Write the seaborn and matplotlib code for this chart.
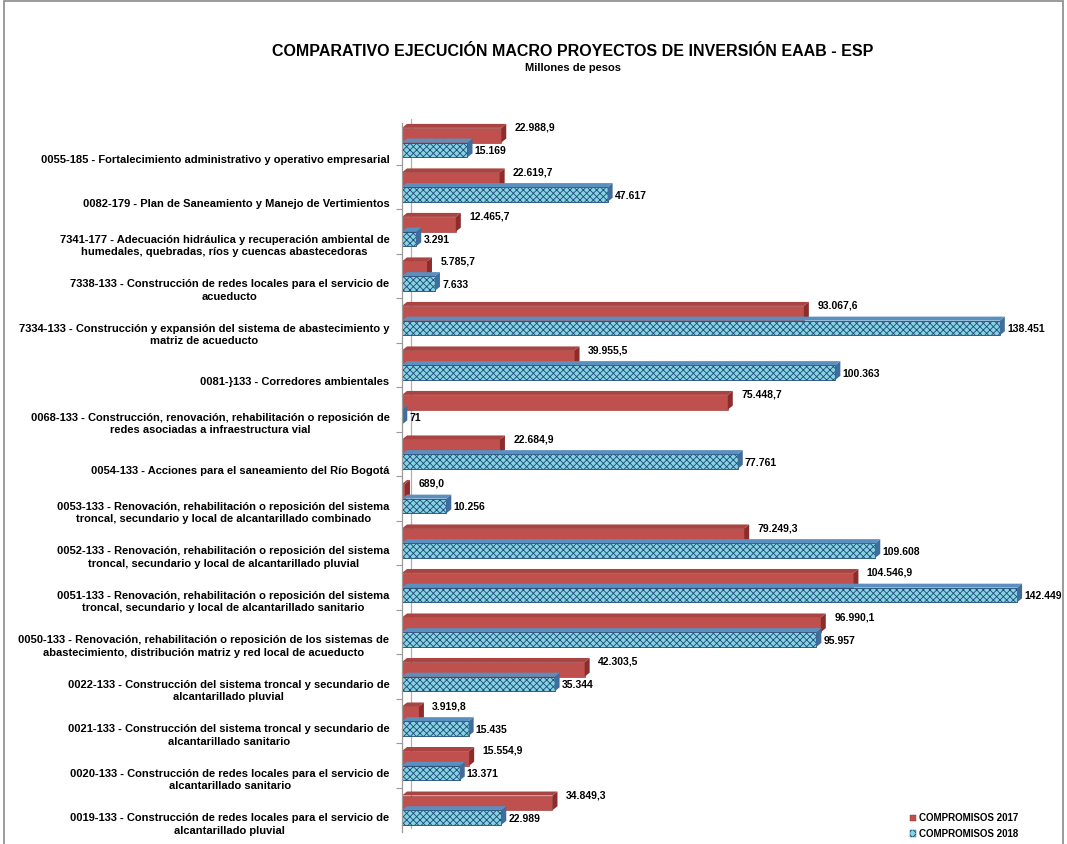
"""
Comparativo ejecución macro proyectos de inversión EAAB - ESP (2017 vs 2018).
Barras horizontales agrupadas con un pequeño efecto de profundidad.
"""

import numpy as np
import pandas as pd
import matplotlib
matplotlib.use("Agg")
import matplotlib.pyplot as plt
from matplotlib.patches import Polygon, Rectangle, Patch
from matplotlib.transforms import ScaledTranslation
import seaborn as sns

PROYECTOS = [
    "0055-185 - Fortalecimiento administrativo y operativo empresarial",
    "0082-179 - Plan de Saneamiento y Manejo de Vertimientos",
    "7341-177 - Adecuación hidráulica y recuperación ambiental de\nhumedales, quebradas, ríos y cuencas abastecedoras",
    "7338-133 - Construcción de redes locales para el servicio de\nacueducto",
    "7334-133 - Construcción y expansión del sistema de abastecimiento y\nmatriz de acueducto",
    "0081-}133 - Corredores ambientales",
    "0068-133 - Construcción, renovación, rehabilitación o reposición de\nredes asociadas a infraestructura vial",
    "0054-133 - Acciones para el saneamiento del Río Bogotá",
    "0053-133 - Renovación, rehabilitación o reposición del sistema\ntroncal, secundario y local de alcantarillado combinado",
    "0052-133 - Renovación, rehabilitación o reposición del sistema\ntroncal, secundario y local de alcantarillado pluvial",
    "0051-133 - Renovación, rehabilitación o reposición del sistema\ntroncal, secundario y local de alcantarillado sanitario",
    "0050-133 - Renovación, rehabilitación o reposición de los sistemas de\nabastecimiento, distribución matriz y red local de acueducto",
    "0022-133 - Construcción del sistema troncal y secundario de\nalcantarillado pluvial",
    "0021-133 - Construcción del sistema troncal y secundario de\nalcantarillado sanitario",
    "0020-133 - Construcción de redes locales para el servicio de\nalcantarillado sanitario",
    "0019-133 - Construcción de redes locales para el servicio de\nalcantarillado pluvial",
]
COMPROMISOS_2017 = [22988.9, 22619.7, 12465.7, 5785.7, 93067.6, 39955.5, 75448.7, 22684.9,
                    689.0, 79249.3, 104546.9, 96990.1, 42303.5, 3919.8, 15554.9, 34849.3]
COMPROMISOS_2018 = [15169, 47617, 3291, 7633, 138451, 100363, 71, 77761,
                    10256, 109608, 142449, 95957, 35344, 15435, 13371, 22989]
SERIES = ["COMPROMISOS 2017", "COMPROMISOS 2018"]

RED = "#C0504D"
RED_DARK = "#8C2D2B"
CYAN = "#86D3E2"
NAVY = "#1E4A78"
FONT = ["Liberation Sans", "DejaVu Sans"]
XMAX = 151000


def fmt_es(v, dec):
    s = f"{v:,.{dec}f}"
    return s.replace(",", "X").replace(".", ",").replace("X", ".")


def main():
    df = pd.DataFrame({
        "proyecto": PROYECTOS * 2,
        "valor": COMPROMISOS_2017 + COMPROMISOS_2018,
        "serie": [SERIES[0]] * len(PROYECTOS) + [SERIES[1]] * len(PROYECTOS),
    })

    sns.set_style("white")
    plt.rcParams["font.family"] = FONT
    plt.rcParams["text.color"] = "black"
    plt.rcParams["ytick.color"] = "black"
    plt.rcParams["hatch.linewidth"] = 0.6

    fig = plt.figure(figsize=(10.67, 8.44), dpi=100)
    ax = fig.add_axes([402 / 1067, 12 / 844, 652 / 1067, 709 / 844])

    sns.barplot(
        data=df, y="proyecto", x="valor", hue="serie",
        order=PROYECTOS, hue_order=SERIES,
        palette=[RED, CYAN], orient="h", width=0.66,
        saturation=1, legend=False, ax=ax,
    )
    ax.set_xlim(0, XMAX)
    ax.set_ylim(15.49, -0.44)

    # pixel -> data conversion for decorative depth faces
    x_per_px = XMAX / 652
    y_per_px = (15.49 + 0.44) / 709
    dx, dy = 5 * x_per_px, 4 * y_per_px

    red_bars, blue_bars = ax.containers[0], ax.containers[1]
    for bar in red_bars:
        bar.set_edgecolor(RED_DARK)
        bar.set_linewidth(0.4)
    for bar in blue_bars:
        bar.set_hatch("xxxxx")
        bar.set_edgecolor(NAVY)
        bar.set_linewidth(0.6)

    for bars, side, top in [(red_bars, RED_DARK, "#A94442"), (blue_bars, "#3F6E9E", "#5B8FBF")]:
        for bar in bars:
            x1 = bar.get_width()
            y0 = bar.get_y()
            y1 = y0 + bar.get_height()
            ax.add_patch(Polygon([(x1, y0), (x1 + dx, y0 - dy), (x1 + dx, y1 - dy), (x1, y1)],
                                 closed=True, facecolor=side, edgecolor="none", zorder=2))
            ax.add_patch(Polygon([(0, y0), (dx, y0 - dy), (x1 + dx, y0 - dy), (x1, y0)],
                                 closed=True, facecolor=top, edgecolor="none", zorder=2))

    # value labels
    for bar, v in zip(red_bars, COMPROMISOS_2017):
        ax.annotate(fmt_es(v, 1), xy=(bar.get_width() + dx, bar.get_y()),
                    xytext=(6, 0), textcoords="offset points",
                    ha="left", va="center", fontsize=7.5, fontweight="bold", family=FONT)
    for bar, v in zip(blue_bars, COMPROMISOS_2018):
        ax.annotate(fmt_es(v, 0), xy=(bar.get_width() + dx, bar.get_y() + bar.get_height() / 2),
                    xytext=(1.5, -1), textcoords="offset points",
                    ha="left", va="center", fontsize=7.5, fontweight="bold", family=FONT)

    # category labels, pushed down like the original 3D layout
    ax.set_ylabel("")
    ax.set_xlabel("")
    ax.set_xticks([])
    ax.tick_params(axis="y", which="major", length=0, pad=9)
    for lab in ax.get_yticklabels():
        lines = lab.get_text().count("\n") + 1
        shift = -16 if lines == 1 else -12
        lab.set_transform(lab.get_transform() + ScaledTranslation(0, shift / 100, fig.dpi_scale_trans))
        lab.set_fontsize(8)
        lab.set_fontweight("bold")
        lab.set_multialignment("center")
        lab.set_linespacing(1.35)

    # category boundary ticks
    ax.set_yticks(np.arange(-0.44 + 1, 15.49, 1.0) - 0.06, minor=True)
    ax.tick_params(axis="y", which="minor", left=True, length=4, color="#999999", width=0.8)

    sns.despine(ax=ax, top=True, right=True, bottom=True, left=False)
    ax.spines["left"].set_color("#9a9a9a")
    ax.spines["left"].set_linewidth(0.9)
    # back wall line
    ax.plot([0, 0], [0, 1], color="#b0b0b0", lw=0.9, zorder=0, clip_on=False,
            transform=ax.get_xaxis_transform() + ScaledTranslation(9 / 100, 4 / 100, fig.dpi_scale_trans))

    fig.text(573 / 1067, 1 - 52 / 844, "COMPARATIVO EJECUCIÓN MACRO PROYECTOS DE INVERSIÓN EAAB - ESP",
             ha="center", va="center", fontsize=11.5, fontweight="bold", family=FONT)
    fig.text(573 / 1067, 1 - 68 / 844, "Millones de pesos",
             ha="center", va="center", fontsize=8, fontweight="bold", family=FONT)

    handles = [Patch(facecolor=RED, edgecolor=RED_DARK, lw=0.3),
               Patch(facecolor=CYAN, edgecolor=NAVY, hatch="xxxx", lw=0.3)]
    fig.legend(handles, SERIES, loc="center left", bbox_to_anchor=(905 / 1067, 1 - 826 / 844),
               frameon=False, handlelength=0.6, handleheight=0.6,
               handletextpad=0.3, labelspacing=0.6, borderpad=0,
               prop={"family": FONT, "weight": "bold", "size": 7})

    fig.add_artist(Rectangle((4 / 1067, -0.01), 1059 / 1067, 1.0 - 1 / 844 + 0.01,
                             transform=fig.transFigure, fill=False,
                             edgecolor="#8a8a8a", lw=1.2))

    fig.savefig("out.png", dpi=100)


if __name__ == "__main__":
    main()
